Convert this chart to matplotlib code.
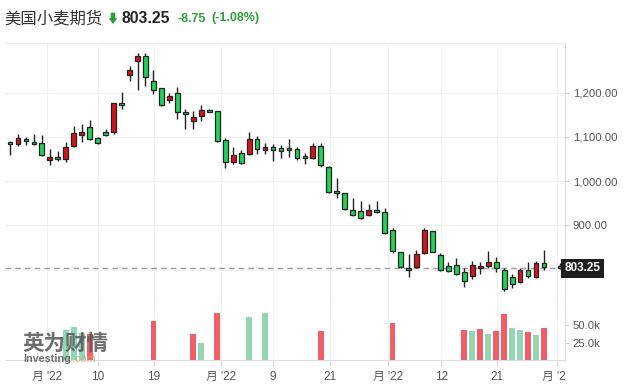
import numpy as np
import matplotlib
matplotlib.use("Agg")
import matplotlib.pyplot as plt
from matplotlib.patches import Polygon, Rectangle
from matplotlib.ticker import FuncFormatter

plt.rcParams['font.family'] = ['Liberation Sans', 'Noto Sans CJK SC', 'DejaVu Sans']

# day slot (slot 68 is empty on the chart)
day = list(range(68)) + [69]
opens = [1088, 1083, 1095, 1088, 1086, 1047, 1055, 1049, 1080, 1103,
         1122, 1098, 1110, 1110, 1177, 1239, 1272, 1283, 1226, 1210,
         1184, 1199, 1156, 1135, 1147, 1161, 1159, 1093, 1044, 1063,
         1061, 1095, 1071, 1077, 1075, 1074, 1072, 1056, 1052, 1079,
         1031, 978, 972, 934, 932, 923, 935, 929, 889, 839,
         804, 805, 837, 887, 833, 808, 810, 794, 785, 803,
         807, 817, 800, 782, 771, 798, 782, 815, 807]
highs = [1091, 1107, 1099, 1107, 1104, 1072, 1069, 1089, 1125, 1128,
         1138, 1099, 1117, 1177, 1201, 1259, 1289, 1289, 1251, 1210,
         1199, 1213, 1162, 1159, 1171, 1162, 1159, 1098, 1076, 1070,
         1110, 1101, 1085, 1083, 1082, 1095, 1078, 1063, 1086, 1086,
         1033, 1006, 974, 961, 954, 947, 955, 938, 893, 839,
         834, 844, 893, 887, 837, 816, 825, 803, 820, 818,
         842, 829, 803, 789, 803, 816, 819, 844, 814]
lows = [1059, 1079, 1081, 1081, 1057, 1036, 1046, 1043, 1078, 1089,
        1092, 1084, 1101, 1106, 1162, 1225, 1206, 1214, 1196, 1170,
        1177, 1140, 1117, 1117, 1135, 1155, 1089, 1030, 1039, 1039,
        1059, 1061, 1062, 1046, 1053, 1055, 1048, 1038, 1050, 1031,
        973, 961, 935, 921, 914, 921, 927, 880, 838, 803,
        782, 804, 835, 839, 796, 794, 788, 761, 779, 791,
        804, 794, 752, 758, 770, 780, 781, 798, 801]
closes = [1083, 1097, 1091, 1083, 1058, 1054, 1049, 1076, 1108, 1111,
          1094, 1086, 1105, 1176, 1171, 1251, 1283, 1235, 1205, 1171,
          1192, 1157, 1151, 1144, 1160, 1156, 1090, 1043, 1058, 1040,
          1095, 1073, 1077, 1071, 1069, 1070, 1051, 1051, 1079, 1036,
          975, 972, 936, 923, 916, 935, 929, 882, 842, 805,
          798, 834, 889, 840, 798, 796, 791, 773, 811, 809,
          817, 803, 755, 767, 800, 786, 814, 806, 803.25]
# volume in thousands, 0 = no bar
volume = [0, 0, 0, 0, 0, 0, 0, 43.8, 48.1, 39.4,
          37.4, 0, 0, 0, 0, 0, 0, 0, 55.8, 0,
          0, 0, 0, 38.0, 24.9, 0, 68.8, 0, 0, 0,
          61.6, 0, 68.8, 0, 0, 0, 0, 0, 0, 41.7,
          0, 0, 0, 0, 0, 0, 0, 0, 53.9, 0,
          0, 0, 0, 0, 0, 0, 0, 43.8, 41.7, 44.6,
          38.0, 42.3, 67.0, 46.7, 43.8, 40.3, 36.5, 46.7, 0]
last_price = 803.25

tick_pos = [4.64, 11.04, 18.07, 26.5, 33.0, 40.15, 47.4, 54.1, 61.07, 68.6]
tick_labels = ["月 '22", "10", "19", "月 '22", "9", "21", "月 '22", "12", "21", "月 '22"]
price_ticks = [900, 1000, 1100, 1200]
vol_ticks = [25, 50]

W, H = 630, 385
fig = plt.figure(figsize=(W / 100, H / 100), dpi=100)
fig.patch.set_facecolor('white')

def px(x, y):
    return (x / W, 1 - y / H)

ax = fig.add_axes([5 / W, 1 - 302.7 / H, 559.5 / W, (302.7 - 43) / H])
axv = fig.add_axes([5 / W, 1 - 360 / H, 559.5 / W, (360 - 302.7) / H], sharex=ax)

x = np.array(day)
o = np.array(opens, float)
h = np.array(highs, float)
l = np.array(lows, float)
c = np.array(closes, float)
up = c >= o

# candles: red = up, green = down
ax.vlines(x, l, h, color='#222222', lw=1, zorder=3)
body_lo = np.minimum(o, c)
body_h = np.maximum(np.abs(c - o), 1.5)
ax.bar(x, body_h, bottom=body_lo, width=0.6,
       color=np.where(up, '#d7141c', '#22d25a'), edgecolor='#222222', lw=0.9, zorder=4)

ax.axhline(last_price, color='#9a9a9a', lw=1, ls=(0, (4, 3)), zorder=2)

ax.set_xlim(-0.627, 69.57)
ax.set_ylim(725, 1312)
ax.yaxis.tick_right()
ax.set_yticks(price_ticks)
ax.yaxis.set_major_formatter(FuncFormatter(lambda v, p: f"{v:,.2f}"))
ax.tick_params(axis='y', length=3, color='#cccccc', labelcolor='#555555', labelsize=8.2, pad=3)
ax.tick_params(axis='x', bottom=False, labelbottom=False)
for v in price_ticks + [800]:
    ax.axhline(v, color='#f1f1f1', lw=0.8, zorder=0)
for t in tick_pos:
    ax.axvline(t, color='#f1f1f1', lw=0.8, zorder=0)
    axv.axvline(t, color='#f1f1f1', lw=0.8, zorder=0)
ax.spines['left'].set_visible(False)
ax.spines['top'].set_color('#eeeeee')
ax.spines['right'].set_color('#dddddd')
ax.spines['bottom'].set_color('#e3e3e3')

ax.text(1.0, last_price, f"{last_price:.2f}", transform=ax.get_yaxis_transform(),
        ha='left', va='center', color='white', fontsize=8.5, fontweight='bold',
        bbox=dict(boxstyle='square,pad=0.3', fc='#1e1e1e', ec='none'), zorder=10)

# volume
cl_prev = np.concatenate([[c[0]], c[:-1]])
vcol = np.where(c >= cl_prev, '#93d6b5', '#ef5f67')
vol = np.array(volume)
mask = vol > 0
axv.bar(x[mask], vol[mask], width=0.72, color=vcol[mask], zorder=3)
axv.set_ylim(0, 83)
axv.yaxis.tick_right()
axv.set_yticks(vol_ticks)
axv.set_yticklabels([f"{v:.1f}k" for v in vol_ticks])
axv.tick_params(axis='y', length=3, color='#cccccc', labelcolor='#555555', labelsize=8.2, pad=3)
axv.set_xticks(tick_pos)
axv.set_xticklabels(tick_labels)
axv.tick_params(axis='x', length=4, color='#dddddd', labelcolor='#555555', labelsize=8.5, pad=4)
axv.spines['left'].set_visible(False)
axv.spines['top'].set_visible(False)
axv.spines['right'].set_color('#dddddd')
axv.spines['bottom'].set_color('#dddddd')

# cover tick label overflow at right edge
fig.patches.append(Rectangle(px(565, 385), 65 / W, 22 / H, transform=fig.transFigure,
                             fc='white', ec='none', zorder=20))

# header
fig.text(*px(4, 18), "美国小麦期货", fontsize=11.8, color='#333333', va='center')
arrow = [px(110.7, 12.7), px(115.3, 12.7), px(115.3, 18.3), px(117.3, 18.3),
         px(113, 24), px(108.7, 18.3), px(110.7, 18.3)]
fig.patches.append(Polygon(arrow, closed=True, transform=fig.transFigure,
                           fc='#2a9d3c', ec='none'))
fig.text(*px(122, 18.5), "803.25", fontsize=11.3, fontweight='bold', color='#222222', va='center')
fig.text(*px(177, 18.5), "-8.75", fontsize=9, fontweight='bold', color='#2e9e3f', va='center')
fig.text(*px(211, 18.5), "(-1.08%)", fontsize=9, fontweight='bold', color='#2e9e3f', va='center')

# watermark
fig.text(*px(22, 344), "英为财情", fontsize=15.5, fontweight='bold', color='#555555',
         alpha=0.85, va='center', zorder=30)
wm = fig.text(*px(23, 358.5), "Investing", fontsize=7.8, fontweight='bold', color='#555555',
              alpha=0.85, va='center', zorder=30)
axv.annotate(".com", xy=(1, 0.5), xycoords=wm, xytext=(1, 0), textcoords='offset points',
             ha='left', va='center', fontsize=7.8, color='#c9a86a', alpha=0.85,
             annotation_clip=False, zorder=30)

fig.savefig("out.png", dpi=100)
